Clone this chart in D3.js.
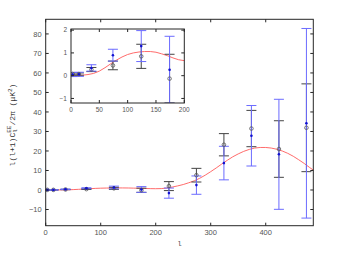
<!DOCTYPE html>
<html>
<head>
<meta charset="utf-8">
<script src="https://cdn.jsdelivr.net/npm/d3@7"></script>
<style>
  body { margin: 0; background: #fff; }
  svg text { font-family: "Liberation Sans", "DejaVu Sans", sans-serif; }
</style>
</head>
<body>
<svg id="chart" width="347" height="254"></svg>
<script>
// band powers per multipole bin
const ell = [3, 14, 36, 74, 124, 174, 224, 274, 324, 374, 424, 474];
const blackVal = [0.08, 0.07, 0.27, 0.45, 0.85, -0.13, 2.0, 7.6, 23.2, 31.5, 21.0, 31.9];
const blackErr = [0.05, 0.05, 0.09, 0.19, 0.53, 1.07, 2.3, 3.5, 5.7, 9.3, 14.5, 22.5];
const blueVal = [0.05, 0.06, 0.34, 0.9, 1.3, 0.26, -1.6, 2.5, 13.8, 27.8, 18.3, 34.2];
const blueErr = [0.09, 0.09, 0.14, 0.26, 0.68, 1.47, 2.6, 4.7, 8.6, 15.5, 28.2, 48.6];

// theory curve
const modelL = [2, 10, 20, 30, 40, 50, 60, 70, 80, 90, 100, 110, 120, 130, 140, 150, 160, 170, 180, 190, 200,
  210, 220, 230, 240, 250, 260, 270, 280, 290, 300, 310, 320, 330, 340, 350, 360, 370, 380, 390, 400,
  410, 420, 430, 440, 450, 460, 470, 480, 490];
const modelV = [0.03, 0.02, 0.02, 0.05, 0.1, 0.2, 0.35, 0.52, 0.68, 0.82, 0.93, 1.0, 1.04, 1.06, 1.06, 1.03, 0.96, 0.88, 0.78, 0.7, 0.66,
  0.72, 1.0, 1.5, 2.1, 2.8, 3.7, 4.7, 6.0, 7.6, 9.4, 11.3, 13.3, 15.2, 17.0, 18.5, 19.8, 20.8, 21.5, 21.8, 21.8,
  21.5, 20.9, 20.0, 18.8, 17.3, 15.5, 13.6, 11.5, 9.5];

const xTicks = [0, 100, 200, 300, 400];
const yTicks = [-10, 0, 10, 20, 30, 40, 50, 60, 70, 80];
const insetXTicks = [0, 50, 100, 150, 200];
const insetYTicks = [-1, 0, 1, 2];

const svg = d3.select("#chart");
const axisColor = "#262626";
const labelColor = "#555";

function drawPanel(box, xDomain, yDomain, xt, yt, id, fontSize) {
  const x = d3.scaleLinear().domain(xDomain).range([box.left, box.right]);
  const y = d3.scaleLinear().domain(yDomain).range([box.bottom, box.top]);
  const g = svg.append("g");

  g.append("rect")
    .attr("x", box.left).attr("y", box.top)
    .attr("width", box.right - box.left).attr("height", box.bottom - box.top)
    .attr("fill", "#fff");

  g.append("clipPath").attr("id", id)
    .append("rect")
    .attr("x", box.left).attr("y", box.top)
    .attr("width", box.right - box.left).attr("height", box.bottom - box.top);

  const plot = g.append("g").attr("clip-path", `url(#${id})`);

  const line = d3.line().x((d, i) => x(modelL[i])).y(d => y(d));
  plot.append("path")
    .datum(modelV)
    .attr("d", line)
    .attr("fill", "none")
    .attr("stroke", "#ff6b6b")
    .attr("stroke-width", 1);

  const cap = 5;
  function errorBars(vals, errs, color) {
    const eb = plot.append("g").attr("stroke", color).attr("stroke-width", 1).attr("fill", "none");
    ell.forEach((l, i) => {
      const cx = x(l), lo = y(vals[i] - errs[i]), hi = y(vals[i] + errs[i]);
      eb.append("line").attr("x1", cx).attr("x2", cx).attr("y1", lo).attr("y2", hi);
      eb.append("line").attr("x1", cx - cap).attr("x2", cx + cap).attr("y1", lo).attr("y2", lo);
      eb.append("line").attr("x1", cx - cap).attr("x2", cx + cap).attr("y1", hi).attr("y2", hi);
    });
  }
  errorBars(blackVal, blackErr, "#444");
  errorBars(blueVal, blueErr, "#6b6bff");

  plot.append("g").selectAll("circle")
    .data(ell)
    .join("circle")
    .attr("cx", d => x(d))
    .attr("cy", (d, i) => y(blackVal[i]))
    .attr("r", 1.8)
    .attr("fill", "none")
    .attr("stroke", "#555")
    .attr("stroke-width", 0.8);

  plot.append("g").selectAll("circle")
    .data(ell)
    .join("circle")
    .attr("cx", d => x(d))
    .attr("cy", (d, i) => y(blueVal[i]))
    .attr("r", 1.3)
    .attr("fill", "#1010d0");

  // box with inward ticks on all four sides
  const tl = 3;
  const axes = g.append("g").attr("stroke", axisColor).attr("stroke-width", 1);
  axes.append("rect")
    .attr("x", box.left).attr("y", box.top)
    .attr("width", box.right - box.left).attr("height", box.bottom - box.top)
    .attr("fill", "none");
  xt.forEach(t => {
    axes.append("line").attr("x1", x(t)).attr("x2", x(t)).attr("y1", box.bottom).attr("y2", box.bottom - tl);
    axes.append("line").attr("x1", x(t)).attr("x2", x(t)).attr("y1", box.top).attr("y2", box.top + tl);
  });
  yt.forEach(t => {
    axes.append("line").attr("x1", box.left).attr("x2", box.left + tl).attr("y1", y(t)).attr("y2", y(t));
    axes.append("line").attr("x1", box.right).attr("x2", box.right - tl).attr("y1", y(t)).attr("y2", y(t));
  });

  g.append("g").selectAll("text")
    .data(xt)
    .join("text")
    .attr("x", d => x(d))
    .attr("y", box.bottom + fontSize + 2)
    .attr("text-anchor", "middle")
    .attr("font-size", fontSize)
    .attr("fill", labelColor)
    .text(d => d);

  g.append("g").selectAll("text")
    .data(yt)
    .join("text")
    .attr("x", box.left - 4)
    .attr("y", d => y(d) + fontSize * 0.36)
    .attr("text-anchor", "end")
    .attr("font-size", fontSize)
    .attr("fill", labelColor)
    .text(d => d < 0 ? "\u2212" + Math.abs(d) : d);
}

drawPanel({ left: 45.7, right: 313.3, top: 19.3, bottom: 225.7 }, [0, 486.5], [-18.3, 87.5],
  xTicks, yTicks, "clipMain", 7.5);
drawPanel({ left: 71, right: 184.3, top: 29, bottom: 103 }, [0, 200], [-1.2, 2.05],
  insetXTicks, insetYTicks, "clipInset", 6.5);

// axis titles
svg.append("text")
  .attr("x", 179.5)
  .attr("y", 246)
  .attr("text-anchor", "middle")
  .attr("font-size", 7.5)
  .attr("fill", labelColor)
  .style("font-family", "'Liberation Mono', monospace")
  .text("l");

const yl = svg.append("text")
  .attr("transform", "translate(15,125) rotate(-90)")
  .attr("text-anchor", "middle")
  .attr("font-size", 8)
  .attr("fill", "#333")
  .style("font-family", "'Liberation Mono', monospace");
yl.append("tspan").text("l(l+1)C");
yl.append("tspan").attr("font-size", 6).attr("dy", 2).text("l");
yl.append("tspan").attr("font-size", 6).attr("dx", -3.6).attr("dy", -6).text("EE");
yl.append("tspan").attr("dy", 4).text("/2\u03c0 (\u03bcK");
yl.append("tspan").attr("font-size", 6).attr("dy", -3).text("2");
yl.append("tspan").attr("dy", 3).text(")");
</script>
</body>
</html>
